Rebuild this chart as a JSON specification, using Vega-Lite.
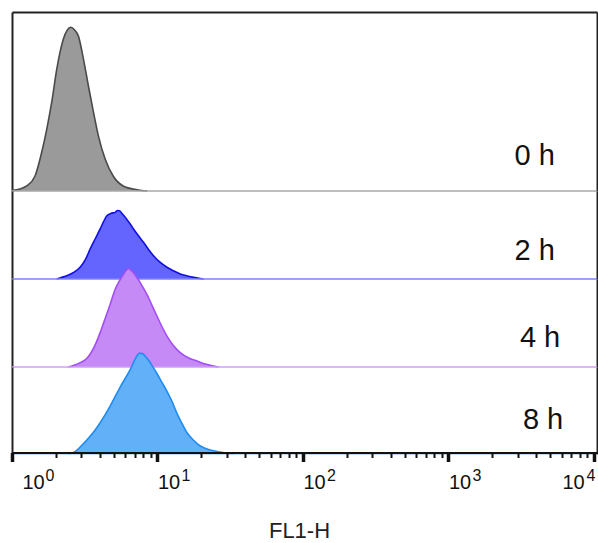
{
  "$schema": "https://vega.github.io/schema/vega-lite/v6.json",
  "padding": {"left": 8, "top": 12, "right": 0, "bottom": 0},
  "spacing": 0,
  "bounds": "flush",
  "config": {
    "view": {"stroke": null},
    "font": "Liberation Sans",
    "axis": {"grid": false}
  },
  "datasets": {
    "hist": [
      {"time": "0 h", "fl1": 1.0, "count": 0.5},
      {"time": "0 h", "fl1": 1.077, "count": 0.8},
      {"time": "0 h", "fl1": 1.262, "count": 3.1},
      {"time": "0 h", "fl1": 1.44, "count": 9.2},
      {"time": "0 h", "fl1": 1.602, "count": 23.9},
      {"time": "0 h", "fl1": 1.734, "count": 38},
      {"time": "0 h", "fl1": 1.876, "count": 54.6},
      {"time": "0 h", "fl1": 2.031, "count": 74.8},
      {"time": "0 h", "fl1": 2.255, "count": 93.3},
      {"time": "0 h", "fl1": 2.391, "count": 98.5},
      {"time": "0 h", "fl1": 2.536, "count": 100.4},
      {"time": "0 h", "fl1": 2.693, "count": 98.8},
      {"time": "0 h", "fl1": 2.861, "count": 95},
      {"time": "0 h", "fl1": 3.097, "count": 81},
      {"time": "0 h", "fl1": 3.352, "count": 64.4},
      {"time": "0 h", "fl1": 3.628, "count": 48.5},
      {"time": "0 h", "fl1": 3.928, "count": 33.7},
      {"time": "0 h", "fl1": 4.368, "count": 19.6},
      {"time": "0 h", "fl1": 4.96, "count": 9.2},
      {"time": "0 h", "fl1": 5.811, "count": 3.1},
      {"time": "0 h", "fl1": 7.254, "count": 0.8},
      {"time": "0 h", "fl1": 8.5, "count": 0},

      {"time": "2 h", "fl1": 2.031, "count": 0},
      {"time": "2 h", "fl1": 2.2, "count": 1.0},
      {"time": "2 h", "fl1": 2.38, "count": 2.0},
      {"time": "2 h", "fl1": 2.65, "count": 4.0},
      {"time": "2 h", "fl1": 2.939, "count": 7.2},
      {"time": "2 h", "fl1": 3.2, "count": 12},
      {"time": "2 h", "fl1": 3.443, "count": 18.4},
      {"time": "2 h", "fl1": 3.75, "count": 25},
      {"time": "2 h", "fl1": 4.036, "count": 30.7},
      {"time": "2 h", "fl1": 4.25, "count": 35},
      {"time": "2 h", "fl1": 4.487, "count": 38.8},
      {"time": "2 h", "fl1": 4.8, "count": 40.3},
      {"time": "2 h", "fl1": 5.119, "count": 40.9},
      {"time": "2 h", "fl1": 5.3, "count": 42},
      {"time": "2 h", "fl1": 5.479, "count": 41.9},
      {"time": "2 h", "fl1": 5.7, "count": 40.2},
      {"time": "2 h", "fl1": 5.998, "count": 37.9},
      {"time": "2 h", "fl1": 6.4, "count": 34.5},
      {"time": "2 h", "fl1": 6.842, "count": 30.7},
      {"time": "2 h", "fl1": 7.4, "count": 26.5},
      {"time": "2 h", "fl1": 8.017, "count": 22.5},
      {"time": "2 h", "fl1": 8.7, "count": 18},
      {"time": "2 h", "fl1": 9.393, "count": 14.3},
      {"time": "2 h", "fl1": 10.4, "count": 10.3},
      {"time": "2 h", "fl1": 11.62, "count": 7.2},
      {"time": "2 h", "fl1": 12.9, "count": 5},
      {"time": "2 h", "fl1": 14.34, "count": 3.1},
      {"time": "2 h", "fl1": 16.0, "count": 1.9},
      {"time": "2 h", "fl1": 17.71, "count": 1.0},
      {"time": "2 h", "fl1": 19.2, "count": 0.5},
      {"time": "2 h", "fl1": 20.75, "count": 0},

      {"time": "4 h", "fl1": 2.441, "count": 0},
      {"time": "4 h", "fl1": 2.7, "count": 1.2},
      {"time": "4 h", "fl1": 2.939, "count": 2.7},
      {"time": "4 h", "fl1": 3.2, "count": 4.5},
      {"time": "4 h", "fl1": 3.443, "count": 7.8},
      {"time": "4 h", "fl1": 3.75, "count": 14},
      {"time": "4 h", "fl1": 4.036, "count": 21.1},
      {"time": "4 h", "fl1": 4.3, "count": 28},
      {"time": "4 h", "fl1": 4.603, "count": 35.4},
      {"time": "4 h", "fl1": 4.85, "count": 41.5},
      {"time": "4 h", "fl1": 5.119, "count": 47.7},
      {"time": "4 h", "fl1": 5.45, "count": 52.5},
      {"time": "4 h", "fl1": 5.838, "count": 56.9},
      {"time": "4 h", "fl1": 6.05, "count": 59},
      {"time": "4 h", "fl1": 6.318, "count": 60.4},
      {"time": "4 h", "fl1": 6.55, "count": 59.5},
      {"time": "4 h", "fl1": 6.842, "count": 57.9},
      {"time": "4 h", "fl1": 7.2, "count": 55},
      {"time": "4 h", "fl1": 7.607, "count": 51.8},
      {"time": "4 h", "fl1": 8.0, "count": 48.4},
      {"time": "4 h", "fl1": 8.461, "count": 44.6},
      {"time": "4 h", "fl1": 9.15, "count": 38},
      {"time": "4 h", "fl1": 9.913, "count": 31.3},
      {"time": "4 h", "fl1": 10.7, "count": 25},
      {"time": "4 h", "fl1": 11.62, "count": 19.0},
      {"time": "4 h", "fl1": 12.9, "count": 13},
      {"time": "4 h", "fl1": 14.34, "count": 8.8},
      {"time": "4 h", "fl1": 16.4, "count": 5.5},
      {"time": "4 h", "fl1": 18.69, "count": 3.7},
      {"time": "4 h", "fl1": 21.3, "count": 1.8},
      {"time": "4 h", "fl1": 24.31, "count": 0.6},
      {"time": "4 h", "fl1": 26.32, "count": 0},

      {"time": "8 h", "fl1": 2.429, "count": 0},
      {"time": "8 h", "fl1": 2.714, "count": 1.5},
      {"time": "8 h", "fl1": 3.033, "count": 5.5},
      {"time": "8 h", "fl1": 3.336, "count": 9.5},
      {"time": "8 h", "fl1": 3.728, "count": 14.7},
      {"time": "8 h", "fl1": 4.036, "count": 19.2},
      {"time": "8 h", "fl1": 4.727, "count": 29.4},
      {"time": "8 h", "fl1": 5.54, "count": 41.1},
      {"time": "8 h", "fl1": 6.492, "count": 51.8},
      {"time": "8 h", "fl1": 7.1, "count": 59},
      {"time": "8 h", "fl1": 7.5, "count": 61.8},
      {"time": "8 h", "fl1": 7.9, "count": 61.6},
      {"time": "8 h", "fl1": 8.4, "count": 59.2},
      {"time": "8 h", "fl1": 9.0, "count": 55.5},
      {"time": "8 h", "fl1": 9.961, "count": 49.1},
      {"time": "8 h", "fl1": 10.78, "count": 43.6},
      {"time": "8 h", "fl1": 11.67, "count": 38.2},
      {"time": "8 h", "fl1": 12.64, "count": 31.9},
      {"time": "8 h", "fl1": 13.68, "count": 24.5},
      {"time": "8 h", "fl1": 14.81, "count": 18.4},
      {"time": "8 h", "fl1": 16.02, "count": 12.9},
      {"time": "8 h", "fl1": 17.63, "count": 8.6},
      {"time": "8 h", "fl1": 19.7, "count": 4.9},
      {"time": "8 h", "fl1": 23.08, "count": 2.5},
      {"time": "8 h", "fl1": 27.04, "count": 1.2},
      {"time": "8 h", "fl1": 33.23, "count": 0}
    ]
  },
  "vconcat": [
    {
      "width": 585,
      "height": 179,
      "layer": [
        {
          "data": {"name": "hist"},
          "transform": [{"filter": "datum.time == '0 h'"}],
          "mark": {"type": "area", "interpolate": "monotone", "color": "#9a9a9a", "opacity": 1,
                   "line": {"color": "#4a4a4a", "strokeWidth": 1.6}},
          "encoding": {
            "x": {"field": "fl1", "type": "quantitative", "scale": {"type": "log", "domain": [1, 10500], "nice": false}, "axis": null},
            "y": {"field": "count", "type": "quantitative", "scale": {"domain": [0, 109.8], "nice": false},
                  "axis": {"orient": "left", "domain": true, "domainColor": "#222", "domainWidth": 2, "ticks": false, "labels": false, "title": null}}
          }
        },
        {
          "data": {"values": [{}]},
          "mark": {"type": "rule", "color": "#a8a8a8", "strokeWidth": 1.3},
          "encoding": {
            "x": {"datum": 1, "type": "quantitative",
                  "axis": {"orient": "top", "domain": true, "domainColor": "#222", "domainWidth": 2, "ticks": false, "labels": false, "title": null}},
            "x2": {"datum": 10500},
            "y": {"datum": 0, "type": "quantitative",
                  "axis": {"orient": "right", "domain": true, "domainColor": "#222", "domainWidth": 2, "ticks": false, "labels": false, "title": null}}
          }
        },
        {
          "data": {"values": [{}]},
          "mark": {"type": "text", "text": "0 h", "align": "left", "baseline": "middle", "fontSize": 29, "color": "#111"},
          "encoding": {
            "x": {"datum": 2850, "type": "quantitative", "axis": null},
            "y": {"datum": 21.5, "type": "quantitative", "axis": null}
          }
        }
      ],
      "resolve": {"axis": {"x": "independent", "y": "independent"}}
    },
    {
      "width": 585,
      "height": 88,
      "layer": [
        {
          "data": {"name": "hist"},
          "transform": [{"filter": "datum.time == '2 h'"}],
          "mark": {"type": "area", "interpolate": "monotone", "color": "#6464ff", "opacity": 1,
                   "line": {"color": "#1010e0", "strokeWidth": 1.6}},
          "encoding": {
            "x": {"field": "fl1", "type": "quantitative", "scale": {"type": "log", "domain": [1, 10500], "nice": false}, "axis": null},
            "y": {"field": "count", "type": "quantitative", "scale": {"domain": [0, 54], "nice": false},
                  "axis": {"orient": "left", "domain": true, "domainColor": "#222", "domainWidth": 2, "ticks": false, "labels": false, "title": null}}
          }
        },
        {
          "data": {"values": [{}]},
          "mark": {"type": "rule", "color": "#8080ff", "strokeWidth": 1.3},
          "encoding": {
            "x": {"datum": 1, "type": "quantitative", "axis": null},
            "x2": {"datum": 10500},
            "y": {"datum": 0, "type": "quantitative",
                  "axis": {"orient": "right", "domain": true, "domainColor": "#222", "domainWidth": 2, "ticks": false, "labels": false, "title": null}}
          }
        },
        {
          "data": {"values": [{}]},
          "mark": {"type": "text", "text": "2 h", "align": "left", "baseline": "middle", "fontSize": 29, "color": "#111"},
          "encoding": {
            "x": {"datum": 2850, "type": "quantitative", "axis": null},
            "y": {"datum": 17.2, "type": "quantitative", "axis": null}
          }
        }
      ],
      "resolve": {"axis": {"x": "independent", "y": "independent"}}
    },
    {
      "width": 585,
      "height": 88,
      "layer": [
        {
          "data": {"name": "hist"},
          "transform": [{"filter": "datum.time == '4 h'"}],
          "mark": {"type": "area", "interpolate": "monotone", "color": "#c68af6", "opacity": 1,
                   "line": {"color": "#a24ef0", "strokeWidth": 1.6}},
          "encoding": {
            "x": {"field": "fl1", "type": "quantitative", "scale": {"type": "log", "domain": [1, 10500], "nice": false}, "axis": null},
            "y": {"field": "count", "type": "quantitative", "scale": {"domain": [0, 54], "nice": false},
                  "axis": {"orient": "left", "domain": true, "domainColor": "#222", "domainWidth": 2, "ticks": false, "labels": false, "title": null}}
          }
        },
        {
          "data": {"values": [{}]},
          "mark": {"type": "rule", "color": "#d09cf8", "strokeWidth": 1.3},
          "encoding": {
            "x": {"datum": 1, "type": "quantitative", "axis": null},
            "x2": {"datum": 10500},
            "y": {"datum": 0, "type": "quantitative",
                  "axis": {"orient": "right", "domain": true, "domainColor": "#222", "domainWidth": 2, "ticks": false, "labels": false, "title": null}}
          }
        },
        {
          "data": {"values": [{}]},
          "mark": {"type": "text", "text": "4 h", "align": "left", "baseline": "middle", "fontSize": 29, "color": "#111"},
          "encoding": {
            "x": {"datum": 3100, "type": "quantitative", "axis": null},
            "y": {"datum": 17.8, "type": "quantitative", "axis": null}
          }
        }
      ],
      "resolve": {"axis": {"x": "independent", "y": "independent"}}
    },
    {
      "width": 585,
      "height": 87,
      "layer": [
        {
          "data": {"name": "hist"},
          "transform": [{"filter": "datum.time == '8 h'"}],
          "mark": {"type": "area", "interpolate": "monotone", "color": "#62b0f8", "opacity": 1,
                   "line": {"color": "#1e8cf0", "strokeWidth": 1.6}},
          "encoding": {
            "x": {"field": "fl1", "type": "quantitative", "scale": {"type": "log", "domain": [1, 10500], "nice": false},
                  "axis": {
                    "orient": "bottom", "values": [1, 10, 100, 1000, 10000], "zindex": 1, "offset": -1.5,
                    "domain": true, "domainColor": "#111", "domainWidth": 2,
                    "ticks": true, "tickColor": "#111", "tickWidth": 3.5, "tickSize": 9,
                    "labelExpr": "'10'", "labelFontSize": 20, "labelColor": "#111",
                    "labelAlign": "left", "labelBaseline": "alphabetic", "labelPadding": 27,
                    "labelFlush": false, "labelOverlap": false, "labelBound": false,
                    "labelOffset": {"condition": [{"test": "datum.value == 1", "value": 10}, {"test": "datum.value == 10000", "value": -32}], "value": 0},
                    "title": "FL1-H", "titleFontSize": 22, "titleFontWeight": "normal", "titleColor": "#222",
                    "titleBaseline": "alphabetic", "titleY": 85, "titleX": 287
                  }},
            "y": {"field": "count", "type": "quantitative", "scale": {"domain": [0, 53.4], "nice": false},
                  "axis": {"orient": "left", "domain": true, "domainColor": "#222", "domainWidth": 2, "ticks": false, "labels": false, "title": null}}
          }
        },
        {
          "data": {"values": [{}]},
          "mark": {"type": "rule", "color": "#a8d0f4", "strokeWidth": 1.3},
          "encoding": {
            "x": {"datum": 1, "type": "quantitative",
                  "axis": {
                    "orient": "bottom", "zindex": 1, "offset": -1.5,
                    "values": [2, 3, 4, 5, 6, 7, 8, 9, 20, 30, 40, 50, 60, 70, 80, 90, 200, 300, 400, 500, 600, 700, 800, 900, 2000, 3000, 4000, 5000, 6000, 7000, 8000, 9000],
                    "domain": false, "ticks": true, "tickColor": "#111", "tickWidth": 2, "tickSize": 5,
                    "labels": false, "title": null
                  }},
            "x2": {"datum": 10500},
            "y": {"datum": 0, "type": "quantitative",
                  "axis": {"orient": "right", "domain": true, "domainColor": "#222", "domainWidth": 2, "ticks": false, "labels": false, "title": null}}
          }
        },
        {
          "data": {"values": [{}]},
          "mark": {"type": "text", "text": "8 h", "align": "left", "baseline": "middle", "fontSize": 29, "color": "#111"},
          "encoding": {
            "x": {"datum": 3250, "type": "quantitative",
                  "axis": {
                    "orient": "bottom", "values": [1, 10, 100, 1000, 10000], "offset": -1.5,
                    "domain": false, "ticks": false,
                    "labelExpr": "'' + round(log(datum.value) / LN10)", "labelFontSize": 16, "labelColor": "#111",
                    "labelAlign": "left", "labelBaseline": "alphabetic", "labelPadding": 27.5,
                    "labelFlush": false, "labelOverlap": false, "labelBound": false,
                    "labelOffset": {"condition": [{"test": "datum.value == 1", "value": 33}, {"test": "datum.value == 10000", "value": -8}], "value": 23.5},
                    "title": null
                  }},
            "y": {"datum": 20.9, "type": "quantitative", "axis": null}
          }
        }
      ],
      "resolve": {"axis": {"x": "independent", "y": "independent"}}
    }
  ]
}
